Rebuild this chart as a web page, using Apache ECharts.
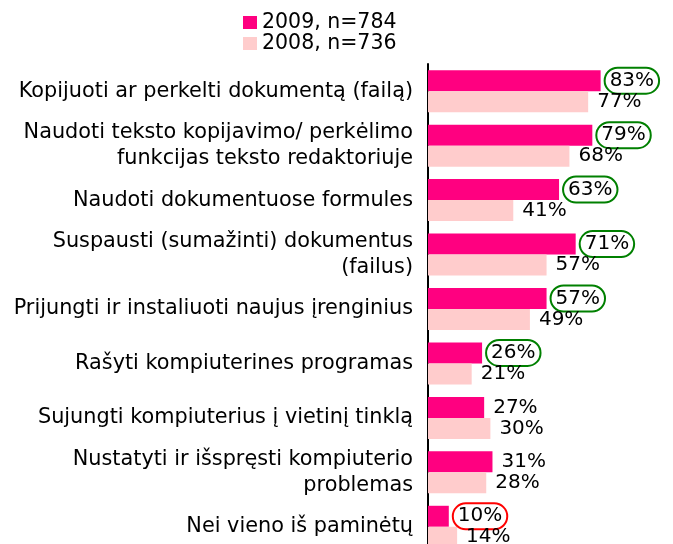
<!DOCTYPE html>
<html>
<head>
<meta charset="utf-8">
<script src="https://cdn.jsdelivr.net/npm/echarts@6/dist/echarts.min.js"></script>
<style>
  html, body { margin: 0; padding: 0; background: #fff; }
  #chart { width: 673px; height: 544px; }
</style>
</head>
<body>
<div id="chart"></div>
<script>
// categories (top to bottom)
const categories = [
  'Kopijuoti ar perkelti dokumentą (failą)',
  'Naudoti teksto kopijavimo/ perkėlimo\nfunkcijas teksto redaktoriuje',
  'Naudoti dokumentuose formules',
  'Suspausti (sumažinti) dokumentus\n(failus)',
  'Prijungti ir instaliuoti naujus įrenginius',
  'Rašyti kompiuterines programas',
  'Sujungti kompiuterius į vietinį tinklą',
  'Nustatyti ir išspręsti kompiuterio\nproblemas',
  'Nei vieno iš paminėtų'
]
const values2009 = [83, 79, 63, 71, 57, 26, 27, 31, 10]
const values2008 = [77, 68, 41, 57, 49, 21, 30, 28, 14]
// ring around the 2009 label: 1 = green, 2 = red, 0 = none
const marks2009 = [1, 1, 1, 1, 1, 1, 0, 0, 2]

const ringColors = ['transparent', '#008000', '#ff0000']

const chart = echarts.init(document.getElementById('chart'), null, { renderer: 'canvas' })

const font = 'DejaVu Sans, Verdana, sans-serif'
const fs = 20

const option = {
  animation: false,
  textStyle: { fontFamily: font },
  legend: {
    orient: 'vertical',
    left: 243,
    top: 12,
    padding: 0,
    itemWidth: 14,
    itemHeight: 13,
    itemGap: 0,
    icon: 'rect',
    data: ['2009, n=784', '2008, n=736'],
    textStyle: { fontSize: 20.5, color: '#000', fontFamily: font, lineHeight: 21 }
  },
  grid: { left: 428, top: 64, right: 37, bottom: -10, outerBoundsMode: 'none' },
  xAxis: {
    type: 'value',
    min: 0,
    max: 100,
    show: false
  },
  yAxis: {
    type: 'category',
    inverse: true,
    data: categories,
    axisLine: { show: true, lineStyle: { color: '#000', width: 2 } },
    axisTick: { show: false },
    axisLabel: {
      fontSize: 20.8,
      color: '#000',
      fontFamily: font,
      margin: 15,
      lineHeight: 26,
      align: 'right'
    }
  },
  series: [
    {
      name: '2009, n=784',
      type: 'bar',
      barWidth: 21,
      barGap: '0%',
      itemStyle: { color: '#ff0080' },
      label: {
        show: true,
        position: 'right',
        distance: 4,
        formatter: '{c}%',
        fontSize: fs,
        color: '#000',
        fontFamily: font,
        lineHeight: 22,
        padding: [2, 5],
        borderWidth: 2,
        borderRadius: 14,
        borderColor: 'transparent'
      },
      data: values2009.map((v, i) => ({
        value: v,
        label: { borderColor: ringColors[marks2009[i]] }
      }))
    },
    {
      name: '2008, n=736',
      type: 'bar',
      barWidth: 21,
      barGap: '0%',
      itemStyle: { color: '#ffcccc' },
      label: {
        show: true,
        position: 'right',
        distance: 9,
        formatter: '{c}%',
        fontSize: fs,
        color: '#000',
        fontFamily: font
      },
      data: values2008
    }
  ]
}

chart.setOption(option)
</script>
</body>
</html>
